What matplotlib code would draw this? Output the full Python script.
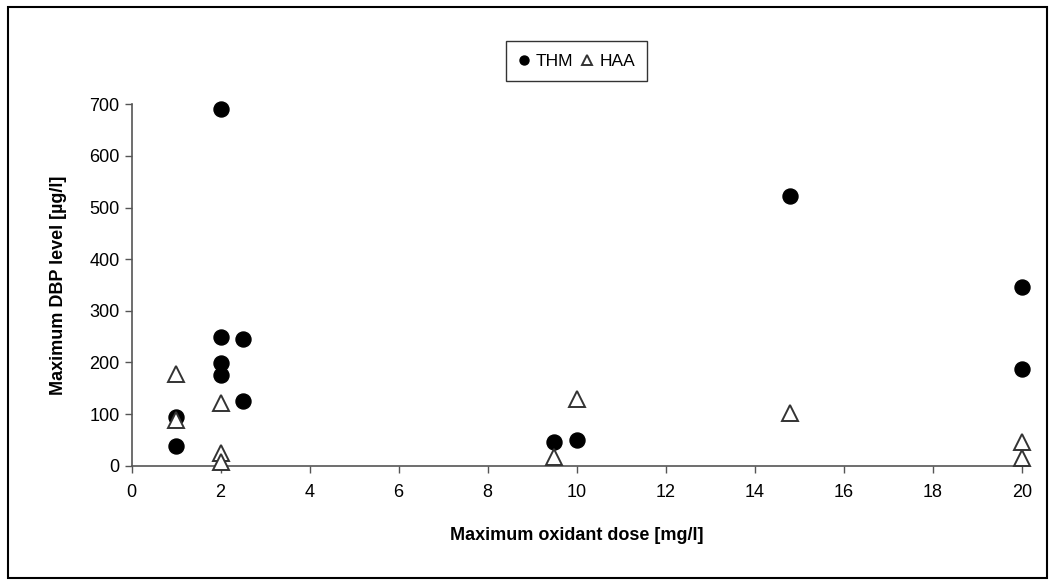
import numpy as np
import matplotlib.pyplot as plt
from matplotlib.patches import Rectangle

plt.rcParams['font.family'] = ['Liberation Sans', 'DejaVu Sans']

# THM data (filled circles)
thm_x = [1, 1, 2, 2, 2, 2, 2.5, 2.5, 9.5, 10, 14.8, 20, 20]
thm_y = [94, 39, 690, 250, 199, 176, 246, 126, 46, 50, 522, 347, 187]

# HAA data (open triangles)
haa_x = [1, 1, 2, 2, 2, 9.5, 10, 14.8, 20, 20]
haa_y = [177, 89, 121, 25, 8, 17, 130, 103, 46, 14]

xticks = np.arange(0, 21, 2)
yticks = np.arange(0, 701, 100)

fig = plt.figure(figsize=(10.54, 5.85), dpi=100)
ax = fig.add_axes([0.1248, 0.2039, 0.8448, 0.6178])

ax.plot(thm_x, thm_y, linestyle='none', marker='o', markersize=10.8,
        color='black', label='THM', clip_on=False, zorder=3)
ax.plot(haa_x, haa_y, linestyle='none', marker='^', markersize=11,
        markerfacecolor='white', markeredgecolor='#333333', markeredgewidth=1.4,
        label='HAA', clip_on=False, zorder=3)

ax.set_xlim(0, 20)
ax.set_ylim(0, 700)
ax.set_xticks(xticks)
ax.set_yticks(yticks)
ax.tick_params(labelsize=13, length=5, width=1, color='#555555', direction='out')
ax.tick_params(axis='x', pad=8)
for side in ['top', 'right']:
    ax.spines[side].set_visible(False)
for side in ['left', 'bottom']:
    ax.spines[side].set_color('#555555')
    ax.spines[side].set_linewidth(1.2)

ax.set_xlabel('Maximum oxidant dose [mg/l]', fontsize=13, fontweight='bold', labelpad=19)
ax.set_ylabel('Maximum DBP level [µg/l]', fontsize=13, fontweight='bold', labelpad=16)

leg = ax.legend(loc='lower center', bbox_to_anchor=(0.5, 1.065), ncol=2, fontsize=12.5,
                frameon=True, fancybox=False, edgecolor='black', markerscale=0.6,
                handlelength=0.6, handletextpad=0.4, columnspacing=0.5,
                borderpad=0.7, borderaxespad=0)
leg.get_frame().set_linewidth(1.0)

fig.patches.append(Rectangle((8 / 1054, 7 / 585), 1039 / 1054, 571 / 585,
                             transform=fig.transFigure, fill=False,
                             edgecolor='black', linewidth=1.5))

fig.savefig('out.png', dpi=100)
